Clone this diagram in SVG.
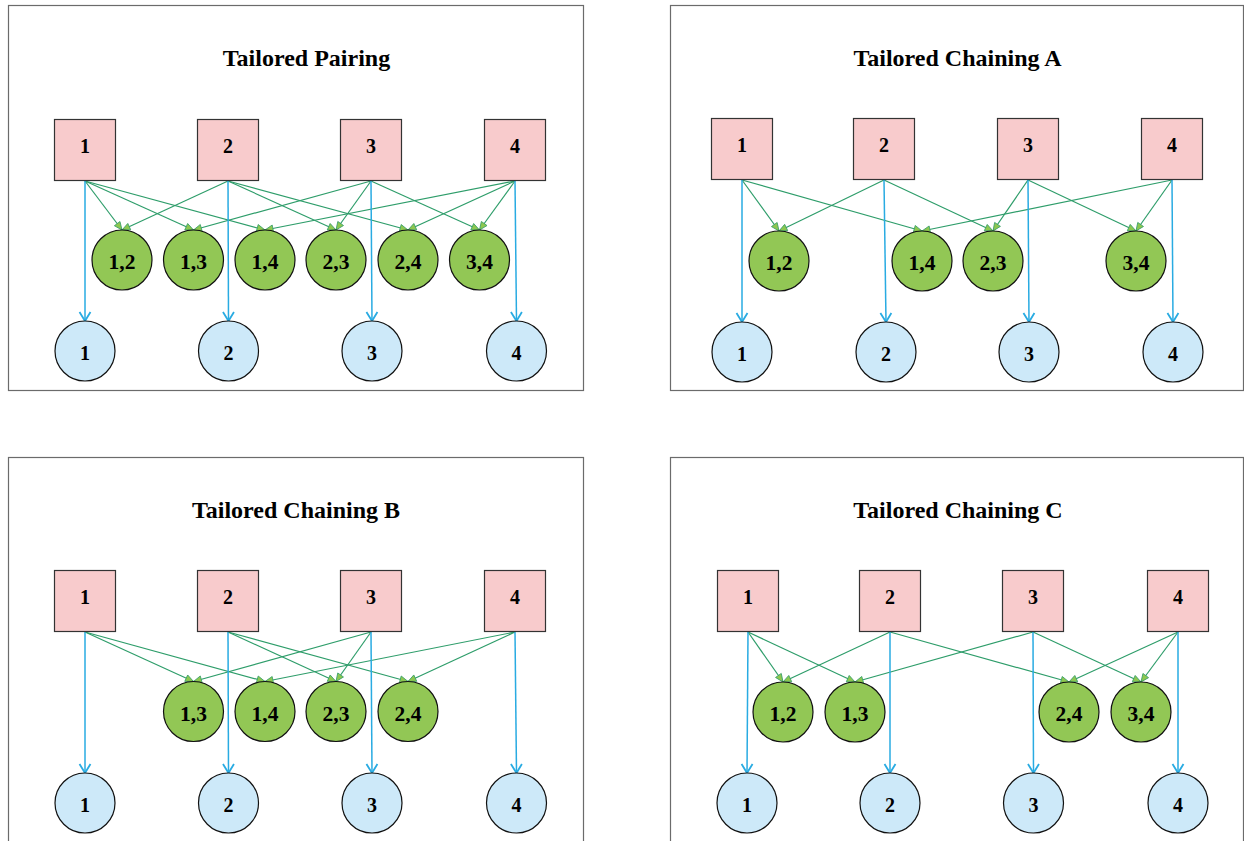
<svg xmlns="http://www.w3.org/2000/svg" width="1244" height="841" viewBox="0 0 1244 841">
<style>
.frame{fill:#fff;stroke:#6b6b6b;stroke-width:1.2}
.title{font-family:"Liberation Serif","Times New Roman",serif;font-weight:bold;font-size:24px;text-anchor:middle;fill:#000}
.lbl{font-family:"Liberation Serif","Times New Roman",serif;font-weight:bold;font-size:20px;text-anchor:middle;fill:#000}
.glbl{font-family:"Liberation Serif","Times New Roman",serif;font-weight:bold;font-size:21.5px;text-anchor:middle;fill:#000}
.sq{fill:#f8cbcc;stroke:#333;stroke-width:1.2}
.gc{fill:#92c755;stroke:#111;stroke-width:1.2}
.bc{fill:#cde9f9;stroke:#111;stroke-width:1.2}
.ge{stroke:#2e9d6a;stroke-width:1.2;fill:none;marker-end:url(#ga)}
.be{stroke:#29abe2;stroke-width:1.5;fill:none;marker-end:url(#ba)}
</style>
<defs>
<marker id="ga" markerUnits="userSpaceOnUse" markerWidth="10" markerHeight="9" refX="9" refY="4.5" orient="auto" overflow="visible">
<path d="M1,1 L9,4.5 L1,8 z" fill="#8dc74f" stroke="#3aa06a" stroke-width="0.8"/>
</marker>
<marker id="ba" markerUnits="userSpaceOnUse" markerWidth="12" markerHeight="12" refX="10" refY="6" orient="auto" overflow="visible">
<path d="M1,0.5 L10,6 L1,11.5" fill="none" stroke="#29abe2" stroke-width="1.8"/>
</marker>
</defs>
<rect width="1244" height="841" fill="#fff"/>

<g id="frames">
<rect class="frame" x="8.5" y="5.5" width="575" height="385"/>
<rect class="frame" x="670.5" y="5.5" width="573" height="385"/>
<rect class="frame" x="8.5" y="457.5" width="575" height="400"/>
<rect class="frame" x="670.5" y="457.5" width="573" height="400"/>
</g>

<g id="titles">
<text class="title" x="306.5" y="66">Tailored Pairing</text>
<text class="title" x="957.5" y="66">Tailored Chaining A</text>
<text class="title" x="296" y="518">Tailored Chaining B</text>
<text class="title" x="958" y="518">Tailored Chaining C</text>
</g>

<g id="connectors">
<!-- Pairing -->
<line class="ge" x1="85" y1="181" x2="122" y2="230"/>
<line class="ge" x1="85" y1="181" x2="193.5" y2="230"/>
<line class="ge" x1="85" y1="181" x2="265" y2="230"/>
<line class="ge" x1="228" y1="181" x2="122" y2="230"/>
<line class="ge" x1="228" y1="181" x2="336" y2="230"/>
<line class="ge" x1="228" y1="181" x2="408" y2="230"/>
<line class="ge" x1="371" y1="181" x2="193.5" y2="230"/>
<line class="ge" x1="371" y1="181" x2="336" y2="230"/>
<line class="ge" x1="371" y1="181" x2="479.5" y2="230"/>
<line class="ge" x1="515" y1="181" x2="265" y2="230"/>
<line class="ge" x1="515" y1="181" x2="408" y2="230"/>
<line class="ge" x1="515" y1="181" x2="479.5" y2="230"/>
<line class="be" x1="85" y1="181" x2="85" y2="321"/>
<line class="be" x1="228" y1="181" x2="228.5" y2="321"/>
<line class="be" x1="371" y1="181" x2="372" y2="321"/>
<line class="be" x1="515" y1="181" x2="516.5" y2="321"/>
<!-- Chaining A -->
<line class="ge" x1="742" y1="180" x2="779" y2="231"/>
<line class="ge" x1="742" y1="180" x2="922" y2="231"/>
<line class="ge" x1="884" y1="180" x2="779" y2="231"/>
<line class="ge" x1="884" y1="180" x2="993" y2="231"/>
<line class="ge" x1="1028" y1="180" x2="993" y2="231"/>
<line class="ge" x1="1028" y1="180" x2="1136" y2="231"/>
<line class="ge" x1="1172" y1="180" x2="922" y2="231"/>
<line class="ge" x1="1172" y1="180" x2="1136" y2="231"/>
<line class="be" x1="742" y1="180" x2="742" y2="322"/>
<line class="be" x1="884" y1="180" x2="886" y2="322"/>
<line class="be" x1="1028" y1="180" x2="1029" y2="322"/>
<line class="be" x1="1172" y1="180" x2="1173" y2="322"/>
<!-- Chaining B -->
<line class="ge" x1="85" y1="632" x2="193.5" y2="681.5"/>
<line class="ge" x1="85" y1="632" x2="265" y2="681.5"/>
<line class="ge" x1="228" y1="632" x2="336" y2="681.5"/>
<line class="ge" x1="228" y1="632" x2="408" y2="681.5"/>
<line class="ge" x1="371" y1="632" x2="193.5" y2="681.5"/>
<line class="ge" x1="371" y1="632" x2="336" y2="681.5"/>
<line class="ge" x1="515" y1="632" x2="265" y2="681.5"/>
<line class="ge" x1="515" y1="632" x2="408" y2="681.5"/>
<line class="be" x1="85" y1="632" x2="85" y2="773"/>
<line class="be" x1="228" y1="632" x2="228.5" y2="773"/>
<line class="be" x1="371" y1="632" x2="372" y2="773"/>
<line class="be" x1="515" y1="632" x2="516.5" y2="773"/>
<!-- Chaining C -->
<line class="ge" x1="748" y1="632" x2="783" y2="682"/>
<line class="ge" x1="748" y1="632" x2="855" y2="682"/>
<line class="ge" x1="890" y1="632" x2="783" y2="682"/>
<line class="ge" x1="890" y1="632" x2="1069" y2="682"/>
<line class="ge" x1="1033" y1="632" x2="855" y2="682"/>
<line class="ge" x1="1033" y1="632" x2="1141" y2="682"/>
<line class="ge" x1="1178" y1="632" x2="1069" y2="682"/>
<line class="ge" x1="1178" y1="632" x2="1141" y2="682"/>
<line class="be" x1="748" y1="632" x2="747" y2="773"/>
<line class="be" x1="890" y1="632" x2="890" y2="773"/>
<line class="be" x1="1033" y1="632" x2="1033.5" y2="773"/>
<line class="be" x1="1178" y1="632" x2="1178" y2="773"/>
</g>

<!-- Pairing nodes -->
<g id="p-s1"><rect class="sq" x="54.5" y="119.5" width="61" height="61"/><text class="lbl" x="85" y="153">1</text></g>
<g id="p-s2"><rect class="sq" x="197.5" y="119.5" width="61" height="61"/><text class="lbl" x="228" y="153">2</text></g>
<g id="p-s3"><rect class="sq" x="340.5" y="119.5" width="61" height="61"/><text class="lbl" x="371" y="153">3</text></g>
<g id="p-s4"><rect class="sq" x="484.5" y="119.5" width="61" height="61"/><text class="lbl" x="515" y="153">4</text></g>
<g id="p-g12"><circle class="gc" cx="122" cy="260" r="30"/><text class="glbl" x="122" y="269">1,2</text></g>
<g id="p-g13"><circle class="gc" cx="193.5" cy="260" r="30"/><text class="glbl" x="193.5" y="269">1,3</text></g>
<g id="p-g14"><circle class="gc" cx="265" cy="260" r="30"/><text class="glbl" x="265" y="269">1,4</text></g>
<g id="p-g23"><circle class="gc" cx="336" cy="260" r="30"/><text class="glbl" x="336" y="269">2,3</text></g>
<g id="p-g24"><circle class="gc" cx="408" cy="260" r="30"/><text class="glbl" x="408" y="269">2,4</text></g>
<g id="p-g34"><circle class="gc" cx="479.5" cy="260" r="30"/><text class="glbl" x="479.5" y="269">3,4</text></g>
<g id="p-b1"><circle class="bc" cx="85" cy="351" r="30"/><text class="lbl" x="85" y="360">1</text></g>
<g id="p-b2"><circle class="bc" cx="228.5" cy="351" r="30"/><text class="lbl" x="228.5" y="360">2</text></g>
<g id="p-b3"><circle class="bc" cx="372" cy="351" r="30"/><text class="lbl" x="372" y="360">3</text></g>
<g id="p-b4"><circle class="bc" cx="516.5" cy="351" r="30"/><text class="lbl" x="516.5" y="360">4</text></g>

<!-- Chaining A nodes -->
<g id="a-s1"><rect class="sq" x="711.5" y="118.5" width="61" height="61"/><text class="lbl" x="742" y="152">1</text></g>
<g id="a-s2"><rect class="sq" x="853.5" y="118.5" width="61" height="61"/><text class="lbl" x="884" y="152">2</text></g>
<g id="a-s3"><rect class="sq" x="997.5" y="118.5" width="61" height="61"/><text class="lbl" x="1028" y="152">3</text></g>
<g id="a-s4"><rect class="sq" x="1141.5" y="118.5" width="61" height="61"/><text class="lbl" x="1172" y="152">4</text></g>
<g id="a-g12"><circle class="gc" cx="779" cy="261" r="30"/><text class="glbl" x="779" y="270">1,2</text></g>
<g id="a-g14"><circle class="gc" cx="922" cy="261" r="30"/><text class="glbl" x="922" y="270">1,4</text></g>
<g id="a-g23"><circle class="gc" cx="993" cy="261" r="30"/><text class="glbl" x="993" y="270">2,3</text></g>
<g id="a-g34"><circle class="gc" cx="1136" cy="261" r="30"/><text class="glbl" x="1136" y="270">3,4</text></g>
<g id="a-b1"><circle class="bc" cx="742" cy="352" r="30"/><text class="lbl" x="742" y="361">1</text></g>
<g id="a-b2"><circle class="bc" cx="886" cy="352" r="30"/><text class="lbl" x="886" y="361">2</text></g>
<g id="a-b3"><circle class="bc" cx="1029" cy="352" r="30"/><text class="lbl" x="1029" y="361">3</text></g>
<g id="a-b4"><circle class="bc" cx="1173" cy="352" r="30"/><text class="lbl" x="1173" y="361">4</text></g>

<!-- Chaining B nodes -->
<g id="b-s1"><rect class="sq" x="54.5" y="570.5" width="61" height="61"/><text class="lbl" x="85" y="604">1</text></g>
<g id="b-s2"><rect class="sq" x="197.5" y="570.5" width="61" height="61"/><text class="lbl" x="228" y="604">2</text></g>
<g id="b-s3"><rect class="sq" x="340.5" y="570.5" width="61" height="61"/><text class="lbl" x="371" y="604">3</text></g>
<g id="b-s4"><rect class="sq" x="484.5" y="570.5" width="61" height="61"/><text class="lbl" x="515" y="604">4</text></g>
<g id="b-g13"><circle class="gc" cx="193.5" cy="711.5" r="30"/><text class="glbl" x="193.5" y="720.5">1,3</text></g>
<g id="b-g14"><circle class="gc" cx="265" cy="711.5" r="30"/><text class="glbl" x="265" y="720.5">1,4</text></g>
<g id="b-g23"><circle class="gc" cx="336" cy="711.5" r="30"/><text class="glbl" x="336" y="720.5">2,3</text></g>
<g id="b-g24"><circle class="gc" cx="408" cy="711.5" r="30"/><text class="glbl" x="408" y="720.5">2,4</text></g>
<g id="b-b1"><circle class="bc" cx="85" cy="803" r="30"/><text class="lbl" x="85" y="812">1</text></g>
<g id="b-b2"><circle class="bc" cx="228.5" cy="803" r="30"/><text class="lbl" x="228.5" y="812">2</text></g>
<g id="b-b3"><circle class="bc" cx="372" cy="803" r="30"/><text class="lbl" x="372" y="812">3</text></g>
<g id="b-b4"><circle class="bc" cx="516.5" cy="803" r="30"/><text class="lbl" x="516.5" y="812">4</text></g>

<!-- Chaining C nodes -->
<g id="c-s1"><rect class="sq" x="717.5" y="570.5" width="61" height="61"/><text class="lbl" x="748" y="604">1</text></g>
<g id="c-s2"><rect class="sq" x="859.5" y="570.5" width="61" height="61"/><text class="lbl" x="890" y="604">2</text></g>
<g id="c-s3"><rect class="sq" x="1002.5" y="570.5" width="61" height="61"/><text class="lbl" x="1033" y="604">3</text></g>
<g id="c-s4"><rect class="sq" x="1147.5" y="570.5" width="61" height="61"/><text class="lbl" x="1178" y="604">4</text></g>
<g id="c-g12"><circle class="gc" cx="783" cy="712" r="30"/><text class="glbl" x="783" y="721">1,2</text></g>
<g id="c-g13"><circle class="gc" cx="855" cy="712" r="30"/><text class="glbl" x="855" y="721">1,3</text></g>
<g id="c-g24"><circle class="gc" cx="1069" cy="712" r="30"/><text class="glbl" x="1069" y="721">2,4</text></g>
<g id="c-g34"><circle class="gc" cx="1141" cy="712" r="30"/><text class="glbl" x="1141" y="721">3,4</text></g>
<g id="c-b1"><circle class="bc" cx="747" cy="803" r="30"/><text class="lbl" x="747" y="812">1</text></g>
<g id="c-b2"><circle class="bc" cx="890" cy="803" r="30"/><text class="lbl" x="890" y="812">2</text></g>
<g id="c-b3"><circle class="bc" cx="1033.5" cy="803" r="30"/><text class="lbl" x="1033.5" y="812">3</text></g>
<g id="c-b4"><circle class="bc" cx="1178" cy="803" r="30"/><text class="lbl" x="1178" y="812">4</text></g>
</svg>
